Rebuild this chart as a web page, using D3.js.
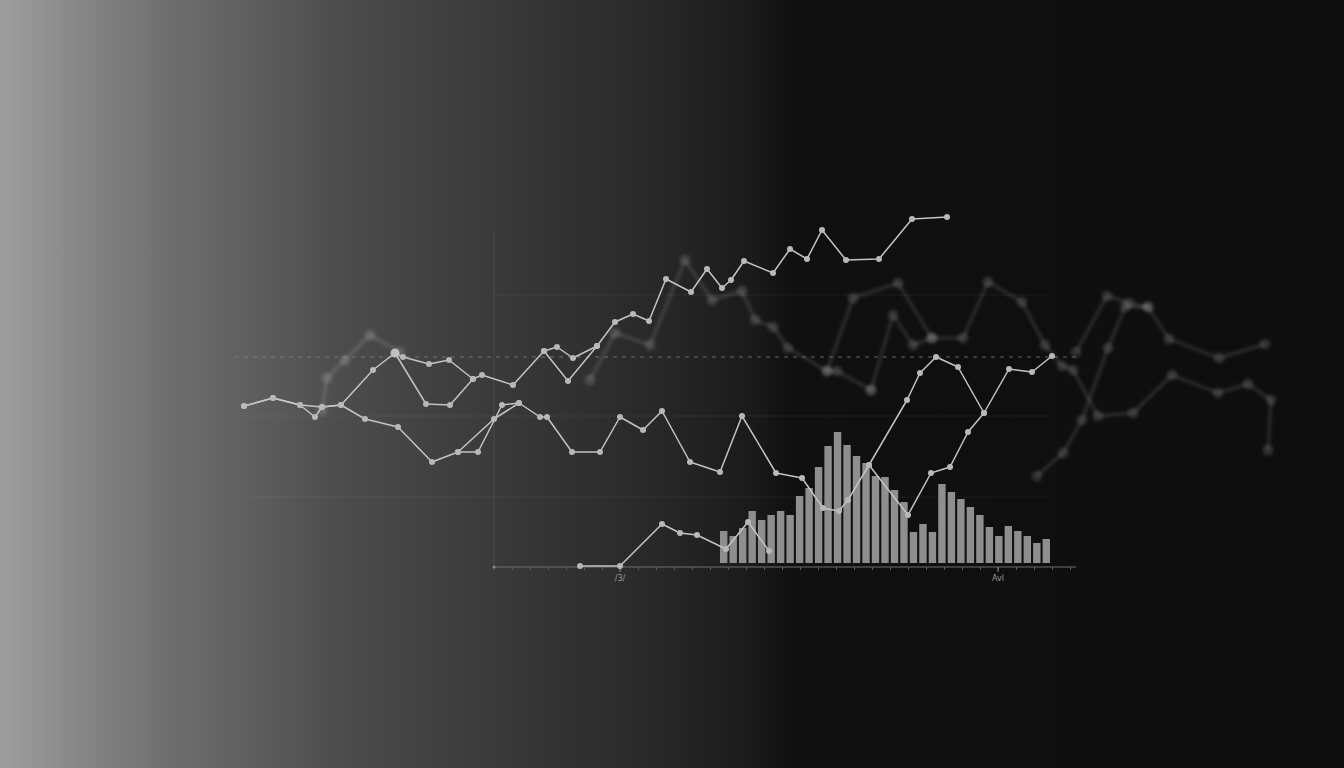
<!DOCTYPE html>
<html><head><meta charset="utf-8">
<script src="https://cdn.jsdelivr.net/npm/d3@7"></script>
<style>html,body{margin:0;padding:0;background:#0c0c0c;overflow:hidden}svg{display:block}</style>
</head><body>
<svg id="chart" width="1344" height="768"></svg>
<script>
// ---- data (x, y in chart units) ----
const lineTop = [[2,80.5],[16.5,84.5],[30,81],[37.5,75],[41,80],[50.5,81],[66.5,98.5],[77.5,107],[81.5,105],[94.5,101.5],[104.5,103.5],[116.5,94],[121,96],[136.5,91],[152,108],[158.5,110],[166.5,104.5],[178.5,110.5],[187.5,122.5],[196.5,126.5],[204.5,123],[213,144],[225.5,137.5],[233.5,149],[241,139.5],[245.5,143.5],[252,153],[266.5,147],[275,159],[283.5,154],[291,168.5],[303,153.5],[319.5,154],[336,174],[353.5,175]];
const lineMid = [[2,80.5],[16.5,84.5],[30,81],[41,80],[50.5,81],[62.5,74],[79,70],[96,52.5],[109,57.5],[127,74],[139.5,82],[150,75],[153.5,75],[166,57.5],[180,57.5],[190,75],[201.5,68.5],[211,78],[225,52.5],[240,47.5],[251,75.5],[268,47],[281,44.5],[291.5,29.5],[299.5,28],[304,33.5],[314.5,51],[333.5,83.5],[340,97],[348,105],[359,100],[372,77]];
const lineLow = [[170,0.5],[190,0.5],[211,21.5],[220,17],[228.5,16],[243,9],[254,22.5],[264.5,8]];
const lineRight = [[314.5,51],[334,26],[345.5,47],[355,50],[364,67.5],[372,77],[384.5,99],[396,97.5],[406,105.5]];
const loopA = [[77.5,107],[93,81.5],[105,81],[116.5,94]];
const loopB = [[152,108],[164,93],[178.5,110.5]];
const loopC = [[109,57.5],[119,57.5],[131,81],[139.5,82]];
const brightSeries = [lineTop, lineMid, lineLow, lineRight, loopA, loopB, loopC];

const faint1 = [[175,93.5],[187.5,117],[205,111],[222.5,153.5],[236,133.5],[251,138],[257.5,123.5],[266.5,120],[274,109.5],[293.5,98],[298.5,98],[315.5,88.5]];
const faint2 = [[315.5,88.5],[326.5,126],[336.5,111],[346,114.5],[361.5,114.5],[374,142.5],[391,132.5],[402.5,111],[411,100.5],[416.5,98.5],[429,75.5],[446.5,77],[466,96],[489,87],[504,91.5],[515.5,83.5],[514,58.5]];
const faint3 = [[293.5,98],[306.5,134.5],[329,142],[346,114.5]];
const faint4 = [[398.5,45.5],[411.5,57],[421,73.5],[434,109.5],[442.5,130],[454,130],[464.5,114],[489.5,104.5],[512.5,111.5]];
const faint5 = [[418,107.5],[433.5,135.5],[444.5,132],[454,130]];
const faint6 = [[41,78.5],[43.5,94.5],[52.5,103.5],[65,116],[80,107.5]];
const faintSeries = [faint1, faint2, faint3, faint4, faint5, faint6];

const barValues = [18,15.5,19.5,28,23.5,26,28,26,35.5,39.5,50,60.5,67.5,61,55.5,52,45.5,45,38.5,32.5,17.5,21.5,17.5,41.5,37.5,34,30,26,20,15.5,20.5,18,15.5,12,14];
const barBase = 2;
const barStart = 240, barEnd = 405;

const axisStart = 127, axisEnd = 418, tickStep = 9;
const tickLabels = [{x:190, label:"/3/"},{x:379, label:"Avl"}];
const gridY = [{y:136, x0:127, x1:405},{y:75.5, x0:0, x1:405},{y:35, x0:5, x1:405}];
const refY = 105, refX0 = -2.5, refX1 = 419;

// ---- drawing ----
const W = 1344, H = 768;
const svg = d3.select("#chart");
const x = d3.scaleLinear().domain([0,520]).range([240,1280]);
const y = d3.scaleLinear().domain([0,200]).range([567,167]);

const defs = svg.append("defs");
const bg = defs.append("linearGradient").attr("id","bg").attr("x1","0").attr("x2","1").attr("y1","0").attr("y2","0");
[[0,"#9e9e9e"],[0.06,"#868686"],[0.127,"#6e6e6e"],[0.255,"#4c4c4c"],[0.38,"#383838"],[0.5,"#262626"],[0.56,"#1a1a1a"],[0.59,"#101010"],[1,"#0d0d0c"]]
  .forEach(([o,c]) => bg.append("stop").attr("offset",o).attr("stop-color",c));
const blur = defs.append("filter").attr("id","blur").attr("x","-10%").attr("y","-10%").attr("width","120%").attr("height","120%");
blur.append("feGaussianBlur").attr("stdDeviation",1.8);

svg.append("rect").attr("width",W).attr("height",H).attr("fill","url(#bg)");

// grid
const g = svg.append("g");
g.append("line").attr("x1",x(axisStart)).attr("x2",x(axisStart)).attr("y1",y(168)).attr("y2",y(0))
  .attr("stroke","#ffffff").attr("stroke-opacity",0.09).attr("stroke-width",1);
gridY.forEach(d => g.append("line").attr("x1",x(d.x0)).attr("x2",x(d.x1)).attr("y1",y(d.y)).attr("y2",y(d.y))
  .attr("stroke","#ffffff").attr("stroke-opacity",0.06).attr("stroke-width",1));
g.append("line").attr("x1",x(refX0)).attr("x2",x(refX1)).attr("y1",y(refY)).attr("y2",y(refY))
  .attr("stroke","#8a8a8a").attr("stroke-opacity",0.7).attr("stroke-width",1).attr("stroke-dasharray","4,5");

const line = d3.line().x(d => x(d[0])).y(d => y(d[1]));

// faint background lines
const fg = svg.append("g").attr("filter","url(#blur)");
faintSeries.forEach(s => {
  fg.append("path").datum(s).attr("d",line).attr("fill","none").attr("stroke","#ffffff").attr("stroke-opacity",0.1).attr("stroke-width",4).attr("stroke-linejoin","round");
  fg.selectAll(null).data(s).enter().append("circle").attr("cx",d=>x(d[0])).attr("cy",d=>y(d[1])).attr("r",5.5).attr("fill","#ffffff").attr("fill-opacity",0.13);
});

// bars
const band = d3.scaleBand().domain(d3.range(barValues.length)).range([x(barStart), x(barEnd)]).paddingInner(0.22).paddingOuter(0);
svg.append("g").selectAll("rect").data(barValues).enter().append("rect")
  .attr("x",(d,i)=>band(i)).attr("width",band.bandwidth())
  .attr("y",d=>y(d)).attr("height",d=>y(barBase)-y(d))
  .attr("fill","#8e8e8e");

// axis
const axisG = svg.append("g").attr("transform",`translate(0,${y(0)})`);
const ticks = d3.range(axisStart, axisEnd+0.01, tickStep);
const axis = d3.axisBottom(x).tickValues(ticks).tickSize(3).tickFormat("");
axisG.call(axis);
axisG.select(".domain").attr("d",`M${x(axisStart)},0H${x(axisEnd)}`).attr("stroke","#6e6e6e");
axisG.selectAll(".tick line").attr("stroke","#5c5c5c");
tickLabels.forEach(t => {
  axisG.append("line").attr("x1",x(t.x)).attr("x2",x(t.x)).attr("y1",0).attr("y2",5).attr("stroke","#8a8a8a");
  axisG.append("text").attr("x",x(t.x)).attr("y",14).attr("text-anchor","middle")
    .attr("font-family","DejaVu Sans, sans-serif").attr("font-size",8).attr("fill","#9a9a9a").text(t.label);
});
axisG.append("circle").attr("cx",x(axisStart)).attr("cy",0).attr("r",1.5).attr("fill","#888");

// bright lines
const bgp = svg.append("g");
brightSeries.forEach(s => {
  bgp.append("path").datum(s).attr("d",line).attr("fill","none").attr("stroke","#c4c4c4").attr("stroke-width",1.5).attr("stroke-linejoin","round");
});
brightSeries.forEach(s => {
  bgp.selectAll(null).data(s).enter().append("circle").attr("cx",d=>x(d[0])).attr("cy",d=>y(d[1])).attr("r",3)
    .attr("fill","#b8b8b8");
});
// emphasized point
bgp.append("circle").attr("cx",x(lineTop[7][0])).attr("cy",y(lineTop[7][1])).attr("r",4.5).attr("fill","#c0c0c0");
</script>
</body></html>
